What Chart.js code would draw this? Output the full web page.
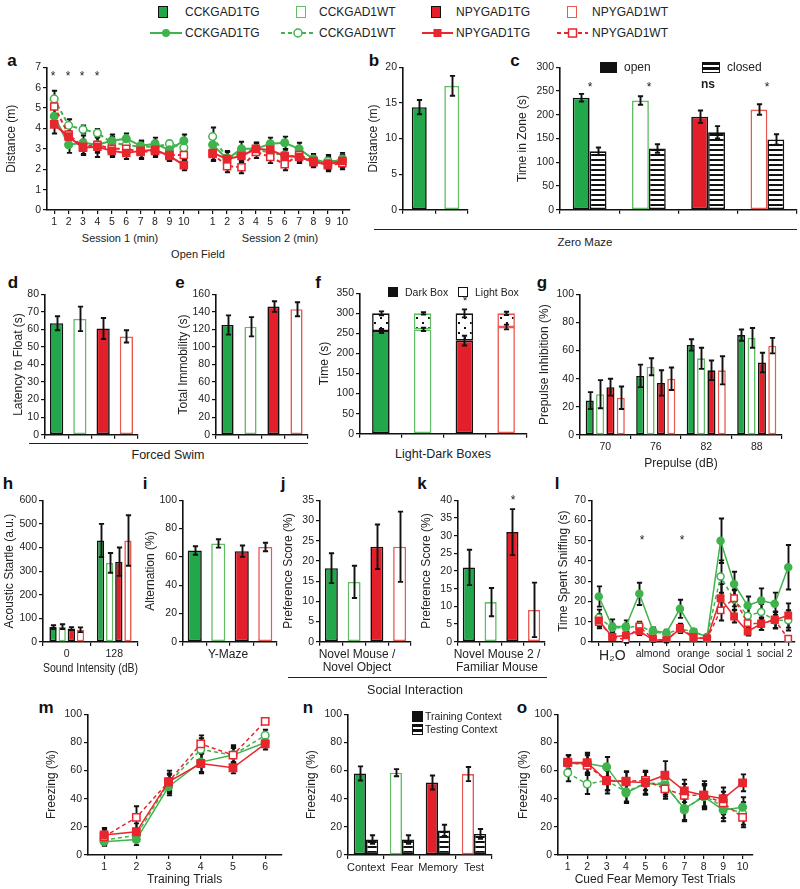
<!DOCTYPE html>
<html><head><meta charset="utf-8">
<script src="https://cdn.jsdelivr.net/npm/chart.js@4"></script>
<style>
body{margin:0;width:800px;height:889px;position:relative;background:#fff;font-family:"Liberation Sans",Arial,sans-serif;overflow:hidden}
canvas{position:absolute}
.t{position:absolute;white-space:nowrap;color:#222;line-height:1}
.hl{position:absolute;height:0;border-top:1.3px solid #222}
.sw{position:absolute;box-sizing:border-box}
svg{position:absolute}
</style></head><body>
<script>
// ---------------- DATA ----------------
const minuteLabels = ['1','2','3','4','5','6','7','8','9','10'];
// a: Open Field distance (m), session 1 and session 2
const aS1_cckTG = [4.6,3.2,3.3,3.2,3.4,3.5,3.15,3.25,2.95,3.4];
const aS1_cckWT = [5.45,4.15,3.95,3.78,3.3,3.2,3.1,3.1,3.25,3.05];
const aS1_npyTG = [4.2,3.6,3.05,3.1,2.9,2.8,2.9,2.95,2.65,2.2];
const aS1_npyWT = [5.08,3.7,3.1,3.2,3.0,3.0,2.85,2.9,2.7,2.7];
const aS2_cckTG = [3.2,2.5,3.0,3.0,3.25,3.3,3.0,2.5,2.3,2.5];
const aS2_cckWT = [3.6,2.55,2.8,3.0,2.8,2.7,2.6,2.4,2.4,2.4];
const aS2_npyTG = [2.8,2.5,2.65,3.0,2.95,2.65,2.6,2.35,2.25,2.4];
const aS2_npyWT = [2.75,2.15,2.1,2.85,2.6,2.25,2.7,2.4,2.2,2.3];
const aS1_cckTG_err = [0.5,0.4,0.35,0.35,0.3,0.25,0.25,0.3,0.25,0.3];
const aS1_cckWT_err = [0.4,0.3,0.2,0.2,0.3,0.3,0.3,0.3,0.15,0.3];
const aS1_npyTG_err = [0.45,0.5,0.35,0.5,0.3,0.3,0.4,0.25,0.25,0.25];
const aS1_npyWT_err = [0.4,0.4,0.35,0.4,0.35,0.3,0.3,0.3,0.3,0.35];
const aS2_cckTG_err = [0.4,0.35,0.35,0.3,0.3,0.3,0.3,0.25,0.3,0.3];
const aS2_cckWT_err = [0.45,0.3,0.3,0.3,0.3,0.3,0.3,0.25,0.3,0.3];
const aS2_npyTG_err = [0.35,0.4,0.3,0.3,0.3,0.3,0.3,0.25,0.3,0.3];
const aS2_npyWT_err = [0.35,0.3,0.3,0.3,0.3,0.3,0.3,0.25,0.3,0.3];
// b: Zero Maze distance (m)
const bValues = [14.4,17.4];
const bErr = [1.0,1.4];
// c: Zero Maze time in zone (s)
const cOpen = [236,230,196,211];
const cOpenErr = [8,9,13,11];
const cClosed = [123,129,163,148];
const cClosedErr = [8,9,13,11];
// d, e: Forced Swim
const dLatency = [63.5,66,60.5,56];
const dErr = [4,7,6,3.5];
const eImmobility = [125,123,146,143];
const eErr = [11,11,6,8];
// f: Light-Dark Boxes (s)
const fDark = [256,260,232,266];
const fDarkErr = [5,4,12,6];
const fLight = [44,40,68,34];
const fLightErr = [5,3,10,4];
// g: Prepulse inhibition (%)
const gLabels = ['70','76','82','88'];
const g_cckTG = [24.5,42,64,71];   const g_cckTG_err = [6,8,4,4];
const g_cckWT = [29,48.5,54.5,69]; const g_cckWT_err = [10,6,7.5,7];
const g_npyTG = [34,37,46,51.5];   const g_npyTG_err = [6,9,7,7];
const g_npyWT = [26.5,40,46,63.5]; const g_npyWT_err = [8,8,10,5.5];
// h: Acoustic startle (a.u.)
const hLabels = ['0','128'];
const h_cckTG = [63,430]; const h_cckTG_err = [8,70];
const h_cckWT = [65,335]; const h_cckWT_err = [10,42];
const h_npyTG = [57,340]; const h_npyTG_err = [6,60];
const h_npyWT = [52,430]; const h_npyWT_err = [10,107];
// i: Y-Maze alternation (%)
const iAlternation = [64.5,69.5,64,67];
const iErr = [3,3,4,3];
// j, k: Social interaction preference score (%)
const jPref = [18.2,14.8,23.5,23.5];
const jErr = [3.7,4,5.5,8.7];
const kPref = [21,11.2,31,9];
const kErr = [5,4,6.5,7.7];
// l: Social odor time sniffing (s)
const lLabels = ['','H\u2082O','','','almond','','','orange','','','social 1','','','social 2',''];
const l_cckTG = [22.5,7.7,7.7,23.8,5.7,4.6,16.4,5.2,2.5,50,28.7,18,20.5,18.9,36.9];
const l_cckWT = [12,7,7,8,5,4,6.5,5,2.5,32.3,21,13,14.8,10.7,10.7];
const l_npyTG = [10.7,2.5,3.3,5.4,1.1,0.8,6.6,2.1,1.6,21.6,12.6,5.2,9,11,13.1];
const l_npyWT = [9.8,2.5,1.1,7.7,1.6,0.8,7,2.5,1.6,15.6,21.6,9.3,9,11,1.6];
const l_cckTG_err = [5,3.5,3,5.5,1.5,1.5,4.5,1,1,11,6,4.5,6,5.5,11];
const l_cckWT_err = [4,2,2,2,1,1,2,1,1,8,5,4,4,4,5];
const l_npyTG_err = [3,1.5,2,2,1,1,2,1,1,7,3,2,3,4,6];
const l_npyWT_err = [3,1.5,1.5,2,1,1,2,1,1,5,4,3,3,4,1];
// m: Training trials freezing (%)
const mLabels = ['1','2','3','4','5','6'];
const m_cckTG = [9.5,11,48.5,66,71,80];   const m_cckTG_err = [3,4,6,7,5,3];
const m_cckWT = [10.6,14,51,75,71,85];    const m_cckWT_err = [3,4,6,8,6,4];
const m_npyTG = [14.2,16.5,52,65,62,79];  const m_npyTG_err = [5,6,8,7,4,4];
const m_npyWT = [13,26.7,52,79,71,95];    const m_npyWT_err = [5,8,6,6,7,2];
// n: Context fear memory freezing (%)
const nLabels = ['Context','Fear','Memory','Test'];
const nTraining = [58,58.5,51.5,57.5]; const nTrainingErr = [5,2.5,5,5];
const nTesting = [11,11,17.5,15];      const nTestingErr = [3,3,4,3.5];
// o: Cued fear memory test trials freezing (%)
const oLabels = ['1','2','3','4','5','6','7','8','9','10'];
const o_cckTG = [65,65,62.6,44,51,49.6,33,41.4,32,34];        const o_cckTG_err = [6,7,7,7,8,8,8,8,8,7];
const o_cckWT = [58.4,50.4,53,45,51,51,32,42.5,34.3,29.5];    const o_cckWT_err = [6,7,7,7,8,8,8,8,8,8];
const o_npyTG = [65.7,65.7,52.7,52,51.5,56.7,45.6,42.5,40,51.3];const o_npyTG_err = [5,7,9,7,8,10,8,10,8,6];
const o_npyWT = [66,63.8,53,52.5,53,47,42.5,42.5,37,26.7];    const o_npyWT_err = [5,7,7,7,7,7,8,8,8,7];

// ---------------- STYLE ----------------
const G='#22a84b', GW='#62bd64', GL='#3fb34c', R='#e3202a', RW='#ea5850', RL='#e8262e', K='#111';
const fills4 = [G,'#fff',R,'#fff'];
const borders4 = [K,GW,K,RW];
Chart.defaults.font.family = '"Liberation Sans", Arial, sans-serif';
Chart.defaults.color = '#222';

function mkPattern(w,h,fn){const c=document.createElement('canvas');c.width=w;c.height=h;const x=c.getContext('2d');x.fillStyle='#fff';x.fillRect(0,0,w,h);x.fillStyle='#111';fn(x);return x.createPattern(c,'repeat');}
const HATCH = mkPattern(4,5,x=>x.fillRect(0,0,4,2));
const DOTS = mkPattern(12,10,x=>{x.fillRect(3,2,2,2);x.fillRect(9,7,2,2);});

function drawErr(chart){
  const ctx=chart.ctx; ctx.save(); ctx.strokeStyle='#111'; ctx.lineWidth=1.9;
  chart.data.datasets.forEach((ds,di)=>{
    if(!ds.err) return;
    const meta=chart.getDatasetMeta(di); const ys=chart.scales[meta.yAxisID];
    meta.data.forEach((el,i)=>{
      const v=ds.errBase?ds.errBase[i]:ds.data[i]; const e=ds.err[i];
      if(v==null||e==null) return;
      const x=Math.round(el.x)+0.5, yt=ys.getPixelForValue(v+e), yb=ys.getPixelForValue(v-e);
      ctx.beginPath(); ctx.moveTo(x,yt); ctx.lineTo(x,yb);
      ctx.moveTo(x-2.6,yt); ctx.lineTo(x+2.6,yt); ctx.moveTo(x-2.6,yb); ctx.lineTo(x+2.6,yb); ctx.stroke();
    });
  });
  ctx.restore();
}
Chart.register({id:'errbars',defaults:{under:false},
  beforeDatasetsDraw(c,a,o){if(o.under)drawErr(c);},
  afterDatasetsDraw(c,a,o){if(!o.under)drawErr(c);}});

function yS(min,max,step,title){
  return {min,max,ticks:{stepSize:step,font:{size:10.5},color:'#222',padding:2},
    grid:{drawOnChartArea:false,drawTicks:true,tickLength:4,color:'#111',lineWidth:1.2},
    border:{display:true,color:'#111',width:1.6},
    title:{display:!!title,text:title||'',font:{size:12},color:'#222',padding:0}};
}
function xS(line,title,extra){
  return Object.assign({type:'category',offset:true,
    grid:{display:true,drawOnChartArea:false,drawTicks:true,tickLength:4,color:'#111',lineWidth:1.2,offset:!line},
    border:{display:true,color:'#111',width:1.6},
    ticks:{font:{size:10.5},color:'#222',autoSkip:false,maxRotation:0,minRotation:0,padding:2},
    title:{display:!!title,text:title||'',font:{size:12},color:'#222',padding:0}},extra||{});
}
function mk(r,type,labels,datasets,xs,ys,under){
  const cv=document.createElement('canvas');
  const L=r.x0-r.wy, Tp=r.yT-8, W=r.x1-r.x0+r.wy+4, H=r.yB-r.yT+8+r.hx;
  cv.width=W; cv.height=H;
  Object.assign(cv.style,{left:L+'px',top:Tp+'px',width:W+'px',height:H+'px'});
  document.body.appendChild(cv);
  xs.afterFit=s=>{s.height=r.hx;}; ys.afterFit=s=>{s.width=r.wy;};
  return new Chart(cv.getContext('2d'),{type,data:{labels,datasets},
    options:{responsive:false,animation:false,events:[],layout:{padding:{top:8,right:4,left:0,bottom:0}},
      plugins:{legend:{display:false},tooltip:{enabled:false},errbars:{under:!!under}},scales:{x:xs,y:ys}}});
}
function LD(kind,data,err,lw,rc,rs){
  const s={cckTG:[GL,GL,'circle',[]],cckWT:[GL,'#fff','circle',[4,3]],npyTG:[RL,RL,'rect',[]],npyWT:[RL,'#fff','rect',[4,3]]}[kind];
  return {data,err,borderColor:s[0],backgroundColor:s[1],pointBackgroundColor:s[1],pointBorderColor:s[0],pointStyle:s[2],
    borderDash:s[3],borderWidth:lw,pointRadius:s[2]==='rect'?rs:rc,pointBorderWidth:1.5,tension:0,spanGaps:false,fill:false};
}
function BD(data,err,bg,bc,bp,cp,extra){
  return Object.assign({data,err,backgroundColor:bg,borderColor:bc,borderWidth:1.6,borderSkipped:false,barPercentage:bp,categoryPercentage:cp},extra||{});
}
function T(s,x,y,size,st){const d=document.createElement('div');d.className='t';d.textContent=s;
  Object.assign(d.style,{left:x+'px',top:y+'px',fontSize:size+'px',transform:'translate(-50%,-50%)'},st||{});document.body.appendChild(d);return d;}
function TL(s,x,y,size){return T(s,x,y,size,{transform:'translate(0,-50%)'});}
function HL(x0,x1,y){const d=document.createElement('div');d.className='hl';Object.assign(d.style,{left:x0+'px',top:y+'px',width:(x1-x0)+'px'});document.body.appendChild(d);}
function SW(x,y,w,h,bg,bc){const d=document.createElement('div');d.className='sw';Object.assign(d.style,{left:x+'px',top:(y-h/2)+'px',width:w+'px',height:h+'px',background:bg,border:'1.5px solid '+bc});document.body.appendChild(d);}
const hatchCss='repeating-linear-gradient(180deg,#111 0 2px,#fff 2px 4.5px)';

// ---------------- TOP LEGEND ----------------
SW(158,12,10,12,G,K); TL('CCKGAD1TG',185,12,12);
SW(296,12,10,12,'#fff',GW); TL('CCKGAD1WT',319,12,12);
SW(431,12,10,12,R,K); TL('NPYGAD1TG',456,12,12);
SW(567,12,10,12,'#fff',RW); TL('NPYGAD1WT',592,12,12);
document.body.insertAdjacentHTML('beforeend',
 '<svg style="left:150px;top:27px" width="32" height="12"><line x1="0" y1="6" x2="32" y2="6" stroke="'+GL+'" stroke-width="2"/><circle cx="16" cy="6" r="4" fill="'+GL+'"/></svg>'+
 '<svg style="left:281px;top:27px" width="34" height="12"><line x1="0" y1="6" x2="34" y2="6" stroke="'+GL+'" stroke-width="2" stroke-dasharray="4,3"/><circle cx="17" cy="6" r="4" fill="#fff" stroke="'+GL+'" stroke-width="1.5"/></svg>'+
 '<svg style="left:422px;top:27px" width="31" height="12"><line x1="0" y1="6" x2="31" y2="6" stroke="'+RL+'" stroke-width="2"/><rect x="11.5" y="2" width="8" height="8" fill="'+RL+'"/></svg>'+
 '<svg style="left:557px;top:27px" width="31" height="12"><line x1="0" y1="6" x2="31" y2="6" stroke="'+RL+'" stroke-width="2" stroke-dasharray="4,3"/><rect x="11.5" y="2" width="8" height="8" fill="#fff" stroke="'+RL+'" stroke-width="1.5"/></svg>');
TL('CCKGAD1TG',185,33,12); TL('CCKGAD1WT',319,33,12); TL('NPYGAD1TG',456,33,12); TL('NPYGAD1WT',592,33,12);

// ---------------- PANEL LETTERS ----------------
[['a',12,60],['b',374,60],['c',515,60],['d',13,282],['e',180,282],['f',318,282],['g',542,282],
 ['h',8,483],['i',145,483],['j',283,483],['k',422,483],['l',557,483],['m',46,707],['n',308,707],['o',522,707]]
 .forEach(p=>T(p[0],p[1],p[2],17,{fontWeight:'bold',color:'#111'}));

// ---------------- a ----------------
const join=(p,q)=>[...p,null,...q];
mk({x0:47,x1:352,yT:67,yB:210,wy:43,hx:20},'line',[...minuteLabels,'',...minuteLabels],[
  LD('npyTG',join(aS1_npyTG,aS2_npyTG),join(aS1_npyTG_err,aS2_npyTG_err),2,4,5),
  LD('npyWT',join(aS1_npyWT,aS2_npyWT),join(aS1_npyWT_err,aS2_npyWT_err),2,4,5),
  LD('cckTG',join(aS1_cckTG,aS2_cckTG),join(aS1_cckTG_err,aS2_cckTG_err),2,3.8,5),
  LD('cckWT',join(aS1_cckWT,aS2_cckWT),join(aS1_cckWT_err,aS2_cckWT_err),2,3.8,5)
],xS(true),yS(0,7,1,'Distance (m)'),true);
[53,68,82,97].forEach(x=>T('*',x,76,12));
T('Session 1 (min)',120,238,11); T('Session 2 (min)',280,238,11); T('Open Field',198,254,11);

// ---------------- b ----------------
mk({x0:403,x1:468,yT:67,yB:210,wy:37,hx:8},'bar',['',''],[
  BD(bValues,bErr,[G,'#fff'],[K,GW],0.46,1)],xS(false),yS(0,20,5,'Distance (m)'));

// ---------------- c ----------------
mk({x0:560,x1:797,yT:67,yB:210,wy:45,hx:8},'bar',['','','',''],[
  BD(cOpen,cOpenErr,fills4,borders4,1,0.57),
  BD(cClosed,cClosedErr,HATCH,K,1,0.57)],xS(false),yS(0,300,50,'Time in Zone (s)'));
SW(600,67,17,11,'#111','#111'); TL('open',624,67,12);
SW(702,67,18,11,hatchCss,'#111'); TL('closed',727,67,12);
T('*',590,87,12); T('*',649,87,12); T('ns',708,84,12,{fontWeight:'bold'}); T('*',767,87,12);
HL(374,797,229); T('Zero Maze',585,243,11.5);

// ---------------- d ----------------
mk({x0:45,x1:138,yT:294,yB:435,wy:34,hx:8},'bar',['','','',''],[
  BD(dLatency,dErr,fills4,borders4,0.57,1)],xS(false),yS(0,80,10,'Latency to Float (s)'));
// ---------------- e ----------------
mk({x0:216,x1:308,yT:294,yB:435,wy:40,hx:8},'bar',['','','',''],[
  BD(eImmobility,eErr,fills4,borders4,0.53,1)],xS(false),yS(0,160,20,'Total Immobility (s)'));
HL(29,308,443); T('Forced Swim',168,455,12.5);

// ---------------- f ----------------
const fTotal = fDark.map((v,i)=>v+fLight[i]);
mk({x0:360,x1:527,yT:293,yB:434,wy:43,hx:8},'bar',['','','',''],[
  BD(fDark,fDarkErr,fills4,borders4,0.42,1),
  BD(fLight,fLightErr,DOTS,borders4,0.42,1,{errBase:fTotal})],
  Object.assign(xS(false),{stacked:true}),Object.assign(yS(0,350,50,'Time (s)'),{stacked:true}));
SW(388,292,10,10,'#111','#111'); TL('Dark Box',405,292,10.5);
SW(458,292,10,10,'#fff','#111'); TL('Light Box',475,292,10.5);
T('*',465,301,12);
T('Light-Dark Boxes',443,454,12.5);

// ---------------- g ----------------
mk({x0:580,x1:782,yT:294,yB:435,wy:43,hx:36},'bar',gLabels,[
  BD(g_cckTG,g_cckTG_err,G,K,0.78,0.82),
  BD(g_cckWT,g_cckWT_err,'#fff',GW,0.78,0.82),
  BD(g_npyTG,g_npyTG_err,R,K,0.78,0.82),
  BD(g_npyWT,g_npyWT_err,'#fff',RW,0.78,0.82)],
  xS(false,'Prepulse (dB)'),yS(0,100,10,'Prepulse Inhibition (%)'));

// ---------------- h ----------------
mk({x0:43,x1:138,yT:500,yB:642,wy:41,hx:34},'bar',hLabels,[
  BD(h_cckTG,h_cckTG_err,G,K,0.8,0.77),
  BD(h_cckWT,h_cckWT_err,'#fff',GW,0.8,0.77),
  BD(h_npyTG,h_npyTG_err,R,K,0.8,0.77),
  BD(h_npyWT,h_npyWT_err,'#fff',RW,0.8,0.77)],
  xS(false,'Sound Intensity (dB)'),yS(0,600,100,'Acoustic Startle (a.u.)'));

// ---------------- i ----------------
mk({x0:183,x1:277,yT:500,yB:642,wy:40,hx:8},'bar',['','','',''],[
  BD(iAlternation,iErr,fills4,borders4,0.6,1)],xS(false),yS(0,100,10,'Alternation (%)'));
T('Y-Maze',228,654,12);

// ---------------- j ----------------
mk({x0:320,x1:411,yT:500,yB:642,wy:39,hx:8},'bar',['','','',''],[
  BD(jPref,jErr,fills4,borders4,0.57,1)],xS(false),yS(0,35,5,'Preference Score (%)'));
T('Novel Mouse /',357,654,12); T('Novel Object',357,667,12);

// ---------------- k ----------------
mk({x0:458,x1:545,yT:500,yB:642,wy:39,hx:8},'bar',['','','',''],[
  BD(kPref,kErr,fills4,borders4,0.56,1)],xS(false),yS(0,40,5,'Preference Score (%)'));
T('Novel Mouse 2 /',497,654,12); T('Familiar Mouse',497,667,12);
T('*',513,500,12);
HL(288,547,677); T('Social Interaction',415,690,12.5);

// ---------------- l ----------------
const lx = xS(true,'Social Odor');
lx.ticks.font = c => (c.tick && c.tick.label==='H\u2082O') ? {size:14} : {size:10.5};
mk({x0:592,x1:797,yT:500,yB:642,wy:36,hx:35},'line',lLabels,[
  LD('npyTG',l_npyTG,l_npyTG_err,1.5,3.5,4.5),
  LD('npyWT',l_npyWT,l_npyWT_err,1.5,3.5,4.5),
  LD('cckTG',l_cckTG,l_cckTG_err,1.5,3.5,4.5),
  LD('cckWT',l_cckWT,l_cckWT_err,1.5,3.5,4.5)],lx,yS(0,70,10,'Time Spent Sniffing (s)'),true);
T('*',642,540,12); T('*',682,540,12);

// ---------------- m ----------------
mk({x0:88,x1:284,yT:714,yB:855,wy:44,hx:32},'line',mLabels,[
  LD('npyTG',m_npyTG,m_npyTG_err,1.5,3.8,5.2),
  LD('npyWT',m_npyWT,m_npyWT_err,1.5,3.8,5.2),
  LD('cckTG',m_cckTG,m_cckTG_err,1.5,3.8,5.2),
  LD('cckWT',m_cckWT,m_cckWT_err,1.5,3.8,5.2)],xS(true,'Training Trials'),yS(0,100,10,'Freezing (%)'),true);

// ---------------- n ----------------
mk({x0:348,x1:492,yT:714,yB:855,wy:44,hx:18},'bar',nLabels,[
  BD(nTraining,nTrainingErr,fills4,borders4,1,0.68),
  BD(nTesting,nTestingErr,HATCH,K,1,0.68)],
  xS(false,'',{ticks:{font:{size:11},color:'#222',autoSkip:false,maxRotation:0,padding:2}}),yS(0,100,10,'Freezing (%)'));
SW(412,716,11,11,'#111','#111'); TL('Training Context',425,716,10.5);
SW(412,729,11,11,hatchCss,'#111'); TL('Testing Context',425,729,10.5);

// ---------------- o ----------------
mk({x0:558,x1:755,yT:714,yB:855,wy:42,hx:32},'line',oLabels,[
  LD('npyTG',o_npyTG,o_npyTG_err,1.5,3.8,5.2),
  LD('npyWT',o_npyWT,o_npyWT_err,1.5,3.8,5.2),
  LD('cckTG',o_cckTG,o_cckTG_err,1.5,3.8,5.2),
  LD('cckWT',o_cckWT,o_cckWT_err,1.5,3.8,5.2)],xS(true,'Cued Fear Memory Test Trials'),yS(0,100,10,'Freezing (%)'),true);
</script>
</body></html>
